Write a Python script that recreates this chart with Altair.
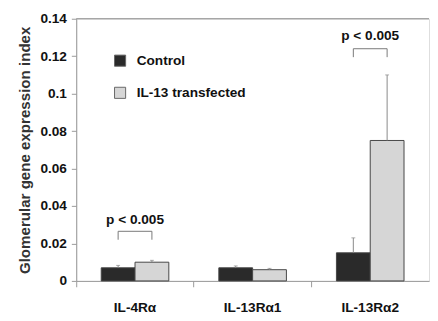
import altair as alt
import pandas as pd

categories = ["IL-4Rα", "IL-13Rα1", "IL-13Rα2"]
groups = ["Control", "IL-13 transfected"]
control_vals = [0.007, 0.007, 0.015]
control_err = [0.0013, 0.001, 0.008]
transf_vals = [0.010, 0.006, 0.075]
transf_err = [0.001, 0.0007, 0.035]

sig_categories = ["IL-4Rα", "IL-13Rα2"]
bracket_top = [0.0265, 0.124]
bracket_leg = [0.022, 0.1195]
label_y = [0.0325, 0.131]
sig_text = ["p < 0.005", "p < 0.005"]
y_ticks = [0, 0.02, 0.04, 0.06, 0.08, 0.1, 0.12, 0.14]

rows = []
for i, c in enumerate(categories):
    rows.append({"cat": c, "grp": groups[0], "val": control_vals[i], "up": control_vals[i] + control_err[i]})
    rows.append({"cat": c, "grp": groups[1], "val": transf_vals[i], "up": transf_vals[i] + transf_err[i]})
df = pd.DataFrame(rows)

brows = []
for j, c in enumerate(sig_categories):
    brows += [
        {"cat": c, "grp": groups[0], "val": bracket_leg[j], "o": 0, "b": j},
        {"cat": c, "grp": groups[0], "val": bracket_top[j], "o": 1, "b": j},
        {"cat": c, "grp": groups[1], "val": bracket_top[j], "o": 2, "b": j},
        {"cat": c, "grp": groups[1], "val": bracket_leg[j], "o": 3, "b": j},
    ]
bdf = pd.DataFrame(brows)
tdf = pd.DataFrame({"cat": sig_categories, "val": label_y, "t": sig_text})
topdf = pd.DataFrame({"val": [y_ticks[-1]]})

FONT = "Liberation Sans"

xaxis = alt.Axis(title=None, labelAngle=0, labelFont=FONT, labelFontSize=14,
                 labelFontWeight="bold", labelColor="#111", labelPadding=14,
                 bandPosition=0, tickSize=6, tickColor="#999", domainColor="#999")
xscale = alt.Scale(paddingInner=0, paddingOuter=0)
yscale = alt.Scale(domain=[0, 0.14], nice=False, zero=True)
yaxis = alt.Axis(title="Glomerular gene expression index", values=y_ticks,
                 format="~g", grid=False, labelOverlap=False, labelFlush=False,
                 labelFont=FONT, labelFontSize=14, labelFontWeight="bold",
                 labelColor="#111", titleFont=FONT, titleFontSize=15.5, titleFontWeight="bold",
                 titleColor="#333", titlePadding=8, tickSize=5, tickColor="#999", domainColor="#999",
                 labelPadding=5)

X = alt.X("cat:N", sort=categories, scale=xscale, axis=xaxis)
XO = alt.XOffset("grp:N", sort=groups, scale=alt.Scale(paddingInner=0, paddingOuter=0.74))

def Y(field):
    return alt.Y(field + ":Q", scale=yscale, axis=yaxis, stack=None)

bars = alt.Chart(df).mark_bar(stroke="#444", strokeWidth=1).encode(
    x=X, xOffset=XO, y=Y("val"),
    fill=alt.Fill("grp:N", sort=groups,
                  scale=alt.Scale(domain=groups, range=["#2a2a2a", "#d6d6d6"]),
                  legend=alt.Legend(title=None, orient="none", legendX=38, legendY=36,
                                    symbolType="square", symbolSize=130, symbolStrokeColor="#666",
                                    symbolStrokeWidth=1, labelFont=FONT, labelFontSize=14,
                                    labelFontWeight="bold", labelColor="#111", rowPadding=17,
                                    labelOffset=10)),
)

err = alt.Chart(df).mark_rule(color="#888", strokeWidth=1).encode(
    x=X, xOffset=XO, y=Y("val"), y2="up:Q")
caps = alt.Chart(df).mark_tick(color="#888", size=4, thickness=1).encode(
    x=X, xOffset=XO, y=Y("up"))

brackets = alt.Chart(bdf).mark_line(color="#777", strokeWidth=1).encode(
    x=X, xOffset=XO, y=Y("val"), order="o:Q", detail="b:N")

texts = alt.Chart(tdf).mark_text(font=FONT, fontSize=14, fontWeight="bold", color="#111").encode(
    x=X, y=Y("val"), text="t:N")

top = alt.Chart(topdf).mark_rule(color="#888", strokeWidth=1).encode(y=Y("val"))

chart = alt.layer(bars, err, caps, brackets, texts, top).properties(
    width=362, height=269,
    padding={"left": 9, "top": 0, "right": 0, "bottom": 0},
).configure_view(stroke=None).configure(background="white")

chart.save("out.html", embed_options={"renderer": "svg", "actions": False})
